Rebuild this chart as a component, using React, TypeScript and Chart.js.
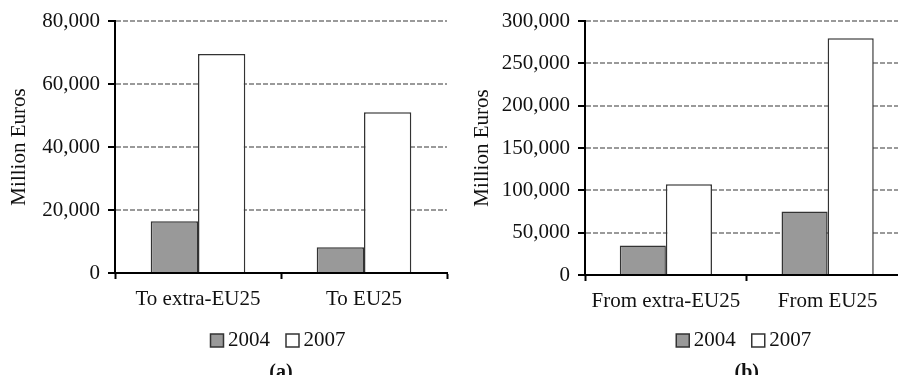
import React, { useEffect, useRef } from "react";
import { Chart, registerables } from "chart.js";

Chart.register(...registerables);

// Series labels
const YEARS = ["2004", "2007"];

// Panel (a): exports, million euros
const EXPORT_CATEGORIES = ["To extra-EU25", "To EU25"];
const EXPORTS_2004 = [16400, 8200];
const EXPORTS_2007 = [69500, 51000];
const EXPORT_AXIS_MAX = 80000;
const EXPORT_AXIS_STEP = 20000;

// Panel (b): imports, million euros
const IMPORT_CATEGORIES = ["From extra-EU25", "From EU25"];
const IMPORTS_2004 = [34700, 74900];
const IMPORTS_2007 = [107200, 279500];
const IMPORT_AXIS_MAX = 300000;
const IMPORT_AXIS_STEP = 50000;

const Y_TITLE = "Million Euros";

const FONT_FAMILY = "'Liberation Serif', 'Times New Roman', Times, serif";
const TEXT = "#111111";
const FILL_2004 = "#999999";
const FILL_2007 = "#ffffff";
const BAR_EDGE = "#333333";

type PanelSpec = {
  categories: string[];
  first: number[];
  second: number[];
  max: number;
  step: number;
  caption: string;
  width: number;
  height: number;
  yAxisWidth: number;
  xAxisHeight: number;
  padTop: number;
  padRight: number;
  titlePad: number;
};

function buildChart(canvas: HTMLCanvasElement, p: PanelSpec) {
  const font = { family: FONT_FAMILY, size: 21 };
  return new Chart(canvas, {
    type: "bar",
    data: {
      labels: p.categories,
      datasets: [
        {
          label: YEARS[0],
          data: p.first,
          backgroundColor: FILL_2004,
          borderColor: BAR_EDGE,
          borderWidth: 1.5,
          categoryPercentage: 0.57,
          barPercentage: 1,
        },
        {
          label: YEARS[1],
          data: p.second,
          backgroundColor: FILL_2007,
          borderColor: BAR_EDGE,
          borderWidth: 1.5,
          categoryPercentage: 0.57,
          barPercentage: 1,
        },
      ],
    },
    options: {
      responsive: false,
      animation: false,
      devicePixelRatio: 1,
      layout: { padding: { top: p.padTop, right: p.padRight, left: 0, bottom: 0 } },
      plugins: {
        tooltip: { enabled: false },
        legend: {
          position: "bottom",
          fullSize: false,
          labels: {
            color: TEXT,
            font,
            // square swatch drawn as a point style so the label sits close to it
            usePointStyle: true,
            pointStyle: "rect",
            boxWidth: 1,
            boxHeight: 13,
            padding: 22,
          },
        },
        title: {
          display: true,
          position: "bottom",
          fullSize: false,
          text: p.caption,
          color: TEXT,
          font: { family: FONT_FAMILY, size: 20, weight: "bold" },
          padding: { top: 0, bottom: 10 },
        },
      },
      scales: {
        x: {
          grid: {
            offset: true,
            drawOnChartArea: false,
            drawTicks: true,
            tickLength: 6,
            tickColor: "#000",
            tickWidth: 2,
          },
          border: { display: true, color: "#000", width: 2 },
          ticks: { color: TEXT, font, padding: 8, maxRotation: 0 },
          afterFit: (scale: any) => {
            scale.height = p.xAxisHeight;
          },
        },
        y: {
          min: 0,
          max: p.max,
          ticks: {
            stepSize: p.step,
            color: TEXT,
            font,
            padding: 8,
            callback: (v: any) => Number(v).toLocaleString("en-US"),
          },
          grid: {
            color: "#9a9a9a",
            lineWidth: 2,
            tickLength: 7,
            tickColor: "#000",
            tickWidth: 2,
            tickBorderDash: [],
          },
          border: { display: true, color: "#000", width: 2, dash: [5, 2] },
          title: {
            display: true,
            text: Y_TITLE,
            color: TEXT,
            font,
            padding: { top: p.titlePad, bottom: 0 },
          },
          afterFit: (scale: any) => {
            scale.width = p.yAxisWidth;
          },
        },
      },
    },
  });
}

function Panel({ spec, left }: { spec: PanelSpec; left: number }) {
  const ref = useRef<HTMLCanvasElement | null>(null);
  useEffect(() => {
    if (!ref.current) return;
    const chart = buildChart(ref.current, spec);
    return () => chart.destroy();
  }, [spec]);
  return (
    <div style={{ position: "absolute", left, top: 0, width: spec.width, height: spec.height }}>
      <canvas ref={ref} width={spec.width} height={spec.height} style={{ display: "block" }} />
    </div>
  );
}

const EXPORT_PANEL: PanelSpec = {
  categories: EXPORT_CATEGORIES,
  first: EXPORTS_2004,
  second: EXPORTS_2007,
  max: EXPORT_AXIS_MAX,
  step: EXPORT_AXIS_STEP,
  caption: "(a)",
  width: 450,
  height: 395,
  yAxisWidth: 115,
  xAxisHeight: 35,
  padTop: 21,
  padRight: 3,
  titlePad: 7,
};

const IMPORT_PANEL: PanelSpec = {
  categories: IMPORT_CATEGORIES,
  first: IMPORTS_2004,
  second: IMPORTS_2007,
  max: IMPORT_AXIS_MAX,
  step: IMPORT_AXIS_STEP,
  caption: "(b)",
  width: 460,
  height: 395,
  yAxisWidth: 135,
  xAxisHeight: 33,
  padTop: 21,
  padRight: 1.5,
  titlePad: 20,
};

export default function App() {
  return (
    <div
      style={{
        position: "fixed",
        left: 0,
        top: 0,
        width: 898,
        height: 375,
        overflow: "hidden",
        background: "#fff",
      }}
    >
      <Panel spec={EXPORT_PANEL} left={0} />
      <Panel spec={IMPORT_PANEL} left={450} />
    </div>
  );
}
